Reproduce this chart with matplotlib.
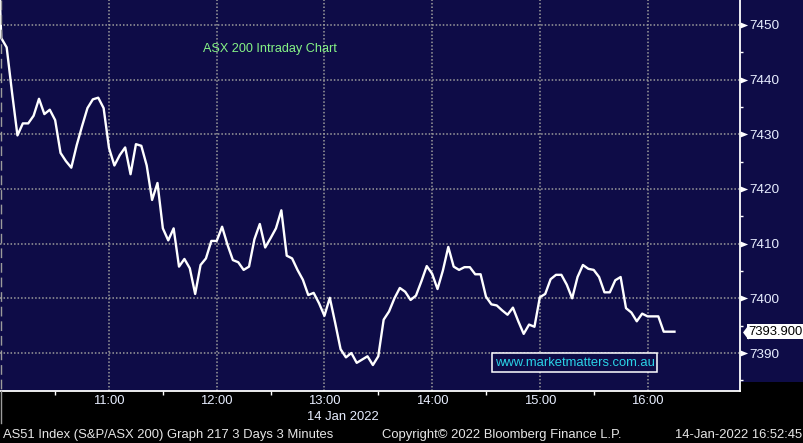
import numpy as np
import matplotlib
matplotlib.use("Agg")
import matplotlib.pyplot as plt
from matplotlib.patches import Rectangle
from matplotlib.lines import Line2D
from matplotlib.path import Path
import matplotlib.transforms as mtransforms

plt.rcParams['font.family'] = ['Liberation Sans', 'DejaVu Sans']

# ---------------- data ----------------
prev_close = 7474.0          # previous session's last print (off the top of the chart)
values = [
    7447.6, 7445.9, 7437.6, 7429.8, 7432.0, 7432.0, 7433.4, 7436.5, 7433.7, 7434.5,
    7432.6, 7426.6, 7425.1, 7423.9, 7428.0, 7431.5, 7434.8, 7436.4, 7436.7, 7434.8,
    7427.5, 7424.3, 7426.2, 7427.6, 7422.7, 7428.2, 7427.9, 7424.3, 7418.0, 7421.1,
    7412.8, 7410.6, 7412.8, 7405.8, 7407.2, 7405.5, 7400.8, 7406.1, 7407.3, 7410.5,
    7410.5, 7413.1, 7409.8, 7407.0, 7406.6, 7405.2, 7405.8, 7410.8, 7413.6, 7409.3,
    7411.0, 7412.8, 7416.1, 7407.8, 7407.3, 7405.2, 7403.4, 7400.6, 7401.0, 7399.1,
    7396.8, 7400.1, 7395.5, 7390.7, 7389.2, 7390.0, 7388.2, 7388.8, 7389.4, 7387.8,
    7389.4, 7396.1, 7397.6, 7400.0, 7401.9, 7401.2, 7399.7, 7400.5, 7403.1, 7405.9,
    7404.5, 7401.7, 7405.1, 7409.4, 7405.8, 7405.2, 7405.7, 7405.7, 7404.4, 7404.4,
    7400.3, 7398.9, 7398.7, 7397.8, 7397.0, 7398.3, 7395.8, 7393.5, 7395.2, 7394.8,
    7400.2, 7400.8, 7403.5, 7404.3, 7404.3, 7402.5, 7400.0, 7403.9, 7406.1, 7405.4,
    7405.2, 7403.9, 7401.1, 7401.1, 7403.3, 7403.9, 7398.2, 7397.4, 7395.8, 7397.2,
    7396.7, 7396.7, 7396.7, 7393.9, 7393.9, 7393.9,
]
last_value = 7393.900
bar_minutes = 3
hour_ticks = [60, 120, 180, 240, 300, 360]
hour_labels = ["11:00", "12:00", "13:00", "14:00", "15:00", "16:00"]
half_hour_ticks = [30, 90, 150, 210, 270, 330]
price_ticks = [7390, 7400, 7410, 7420, 7430, 7440, 7450]
price_minor = [7385, 7395, 7405, 7415, 7425, 7435, 7445]
date_label = "14 Jan 2022"
title = "ASX 200 Intraday Chart"
watermark = "www.marketmatters.com.au"
footer_left = "AS51 Index (S&P/ASX 200) Graph 217 3 Days 3 Minutes"
footer_mid = "Copyright\u00a9 2022 Bloomberg Finance L.P."
footer_right = "14-Jan-2022 16:52:45"

# time axis: minutes after 10:00
minutes = np.arange(-1, len(values)) * bar_minutes
series = [prev_close] + values

# ---------------- figure ----------------
W, H = 804, 443
NAVY = '#0e0c47'
GRID = '#9c9c9c'
TXT = '#e8eeff'

fig = plt.figure(figsize=(W / 100, H / 100), dpi=100, facecolor='black')

def fx(px):
    return px / W

def fy(py_top):
    return 1 - py_top / H

ax = fig.add_axes([0, fy(391), fx(740), 391 / H])
ax.set_facecolor(NAVY)

# right-hand navy panel beside the axis
fig.patches.append(Rectangle((fx(740), fy(382)), 1 - fx(740), 382 / H,
                             transform=fig.transFigure, facecolor=NAVY,
                             edgecolor='none', zorder=-1))

ax.plot(minutes, series, color='white', lw=1.7, zorder=3, solid_joinstyle='round')

ax.set_xlim(-0.72, 411.5)
ax.set_ylim(7383.05, 7454.57)

# grid
for t in hour_ticks:
    ax.axvline(t, color=GRID, lw=1.1, ls=(0, (1, 1.3)), zorder=1)
for p in price_ticks:
    ax.axhline(p, color=GRID, lw=1.1, ls=(0, (1, 1.3)), zorder=1)

# spines
for s in ['top', 'left']:
    ax.spines[s].set_visible(False)
ax.spines['right'].set_color('white')
ax.spines['bottom'].set_color('white')
ax.spines['right'].set_linewidth(1.3)
ax.spines['bottom'].set_linewidth(1.3)

# y axis on right
ax.yaxis.tick_right()
ax.set_yticks(price_ticks)
ax.set_yticklabels([str(p) for p in price_ticks])
ax.set_yticks(price_minor, minor=True)
ax.tick_params(axis='y', which='major', length=0, pad=6.8, labelsize=9.7, labelcolor=TXT)
ax.tick_params(axis='y', which='minor', length=2.5, width=1, color='white', direction='out')
# caret markers for major ticks
bt = mtransforms.blended_transform_factory(ax.transAxes, ax.transData)
caret = Path([(0, 0.6), (1.5, 0), (0, -0.6), (0, 0.6)],
             [Path.MOVETO, Path.LINETO, Path.LINETO, Path.CLOSEPOLY])
ax.plot([1.0] * len(price_ticks), price_ticks, ls='none', marker=caret, ms=11,
        color='white', mec='none', transform=bt, clip_on=False, zorder=5)

# x axis
ax.set_xticks(hour_ticks)
ax.set_xticklabels(hour_labels)
ax.set_xticks(half_hour_ticks, minor=True)
ax.tick_params(axis='x', which='major', length=0, pad=3.2, labelsize=9.4, labelcolor=TXT)
ax.tick_params(axis='x', which='minor', length=3, width=1, color='white', direction='out')

# day separator at left
fig.add_artist(Line2D([fx(1.5), fx(1.5)], [fy(0), fy(391)], color=GRID, lw=1,
                      ls=(0, (7, 3.5)), transform=fig.transFigure))
fig.add_artist(Line2D([fx(1.5), fx(1.5)], [fy(391), fy(423)], color=GRID, lw=1,
                      transform=fig.transFigure))

# last value tag
ax.text(1 + 8.5 / 740, last_value, f"{last_value:.3f}", transform=bt, ha='left',
        va='center', fontsize=9.4, color='black', clip_on=False, zorder=6,
        bbox=dict(boxstyle='square,pad=0.12', facecolor='white', edgecolor='none'))
tag_marker = Path([(-0.75, 0), (0, 1), (0, -1), (-0.75, 0)],
                  [Path.MOVETO, Path.LINETO, Path.LINETO, Path.CLOSEPOLY])
ax.plot([1 + 8.2 / 740], [last_value], ls='none', marker=tag_marker, ms=10.5,
        color='white', mec='none', transform=bt, clip_on=False, zorder=6)

# title
fig.text(fx(203), fy(49), title, color='#86f486', fontsize=9.1, ha='left', va='center')

# watermark box
fig.patches.append(Rectangle((fx(492), fy(372)), fx(657 - 492), (372 - 353) / H,
                             transform=fig.transFigure, facecolor=NAVY,
                             edgecolor='white', lw=1.1, zorder=5))
fig.text(fx(574.5), fy(362.5), watermark, color='#2ad2e6', fontsize=9.4,
         ha='center', va='center', zorder=6)

# date under axis
fig.text(fx(307), fy(417), date_label, color=TXT, fontsize=9.4, ha='left', va='center')

# footer
fig.text(fx(3), fy(435), footer_left, color='#e6e6e6', fontsize=9.4, ha='left', va='center')
fig.text(fx(382), fy(435), footer_mid, color='#e6e6e6', fontsize=9.4, ha='left', va='center')
fig.text(fx(802), fy(435), footer_right, color='#e6e6e6', fontsize=9.4, ha='right', va='center')

fig.savefig('out.png', dpi=100, facecolor='black')
